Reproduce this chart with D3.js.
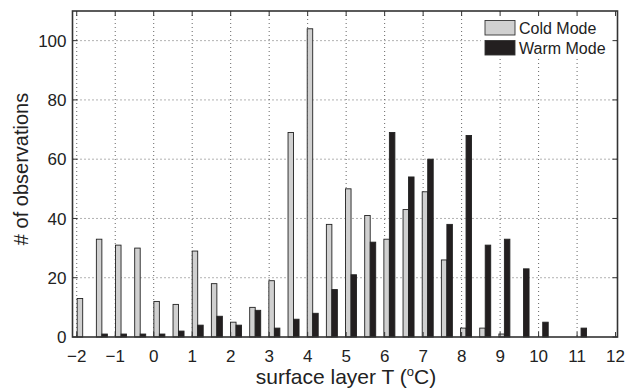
<!DOCTYPE html>
<html>
<head>
<meta charset="utf-8">
<script src="https://cdn.jsdelivr.net/npm/d3@7"></script>
<style>
  body { margin: 0; background: white; }
  svg text { font-family: "Liberation Sans", Arial, Helvetica, sans-serif; fill: #222; }
</style>
</head>
<body>
<div class="chart"></div>
<script>
// histogram bin centers (deg C)
const binCenters = [-1.845, -1.347, -0.849, -0.351, 0.147, 0.645, 1.143, 1.641, 2.139, 2.637,
  3.135, 3.633, 4.131, 4.629, 5.127, 5.625, 6.123, 6.621, 7.119, 7.617,
  8.115, 8.613, 9.111, 9.609, 10.107, 10.605, 11.103];
const coldCounts = [13, 33, 31, 30, 12, 11, 29, 18, 5, 10,
  19, 69, 104, 38, 50, 41, 33, 43, 49, 26,
  3, 3, 1, 0, 0, 0, 0];
const warmCounts = [0, 1, 1, 1, 1, 2, 4, 7, 4, 9,
  3, 6, 8, 16, 21, 32, 69, 54, 60, 38,
  68, 31, 33, 23, 5, 0, 3];
const xTicks = [-2, -1, 0, 1, 2, 3, 4, 5, 6, 7, 8, 9, 10, 11, 12];
const yTicks = [0, 20, 40, 60, 80, 100];
const seriesNames = ["Cold Mode", "Warm Mode"];
const seriesFill = ["#d0d0d0", "#231f20"];

const width = 625, height = 392;
const m = { left: 72.5, right: 617.5, top: 11, bottom: 337 };

let svg = d3.select("div.chart").append("svg")
  .attr("width", width)
  .attr("height", height);

let x = d3.scaleLinear().domain([-2.11, 12.05]).range([m.left, m.right]);
let y = d3.scaleLinear().domain([0, 110]).range([m.bottom, m.top]);
const barW = 0.143; // bar width in data units

// grid
let grid = svg.append("g").attr("class", "grid")
  .attr("stroke", "#555")
  .attr("stroke-width", 0.9)
  .attr("stroke-dasharray", "1,3");
grid.selectAll("line.gx")
  .data(xTicks.filter(d => d < 12))
  .enter().append("line")
  .attr("class", "gx")
  .attr("x1", d => x(d)).attr("x2", d => x(d))
  .attr("y1", m.top).attr("y2", m.bottom);
grid.selectAll("line.gy")
  .data(yTicks.filter(d => d > 0))
  .enter().append("line")
  .attr("class", "gy")
  .attr("x1", m.left).attr("x2", m.right)
  .attr("y1", d => y(d)).attr("y2", d => y(d));

// bars
let series = [coldCounts, warmCounts];
series.forEach((counts, s) => {
  svg.append("g").selectAll("rect")
    .data(counts.map((v, i) => ({ c: binCenters[i], v: v })).filter(d => d.v > 0))
    .enter().append("rect")
    .attr("x", d => x(d.c - barW + s * barW))
    .attr("width", x(barW) - x(0))
    .attr("y", d => y(d.v))
    .attr("height", d => y(0) - y(d.v))
    .attr("fill", seriesFill[s])
    .attr("stroke", "#222")
    .attr("stroke-width", 0.9);
});

// legend (white box, no border)
let legend = svg.append("g").attr("class", "legend");
legend.append("rect")
  .attr("x", 481).attr("y", 14)
  .attr("width", 134).attr("height", 45)
  .attr("fill", "white");
seriesNames.forEach((name, i) => {
  legend.append("rect")
    .attr("x", 485).attr("y", 20.5 + i * 20)
    .attr("width", 30).attr("height", 14.5)
    .attr("fill", seriesFill[i])
    .attr("stroke", "#333")
    .attr("stroke-width", 0.9);
  legend.append("text")
    .attr("x", 519).attr("y", 33.5 + i * 20)
    .attr("font-size", 16)
    .text(name);
});

// axes box + inward ticks
let frame = svg.append("g").attr("stroke", "#333").attr("fill", "none");
frame.append("rect")
  .attr("x", m.left).attr("y", m.top)
  .attr("width", m.right - m.left).attr("height", m.bottom - m.top)
  .attr("stroke-width", 1.6);
frame.selectAll("path.tx")
  .data(xTicks)
  .enter().append("path")
  .attr("class", "tx")
  .attr("stroke-width", 1)
  .attr("d", d => `M${x(d)},${m.bottom}v-5M${x(d)},${m.top}v5`);
frame.selectAll("path.ty")
  .data(yTicks)
  .enter().append("path")
  .attr("class", "ty")
  .attr("stroke-width", 1)
  .attr("d", d => `M${m.left},${y(d)}h5M${m.right},${y(d)}h-5`);

// tick labels
const fmt = d => d < 0 ? "\u2212" + Math.abs(d) : String(d);
svg.append("g").selectAll("text")
  .data(xTicks)
  .enter().append("text")
  .attr("x", d => x(d))
  .attr("y", 362)
  .attr("text-anchor", "middle")
  .attr("font-size", 17)
  .text(fmt);
svg.append("g").selectAll("text")
  .data(yTicks)
  .enter().append("text")
  .attr("x", 66.5)
  .attr("y", d => y(d))
  .attr("dy", "0.36em")
  .attr("text-anchor", "end")
  .attr("font-size", 17)
  .text(fmt);

// axis titles
let xTitle = svg.append("text")
  .attr("x", 346)
  .attr("y", 384)
  .attr("text-anchor", "middle")
  .attr("font-size", 21);
xTitle.append("tspan").text("surface layer T (");
xTitle.append("tspan").attr("font-size", 13).attr("dy", -8).text("o");
xTitle.append("tspan").attr("dy", 8).text("C)");

svg.append("text")
  .attr("transform", "translate(28,169) rotate(-90)")
  .attr("text-anchor", "middle")
  .attr("font-size", 20)
  .text("# of observations");
</script>
</body>
</html>
